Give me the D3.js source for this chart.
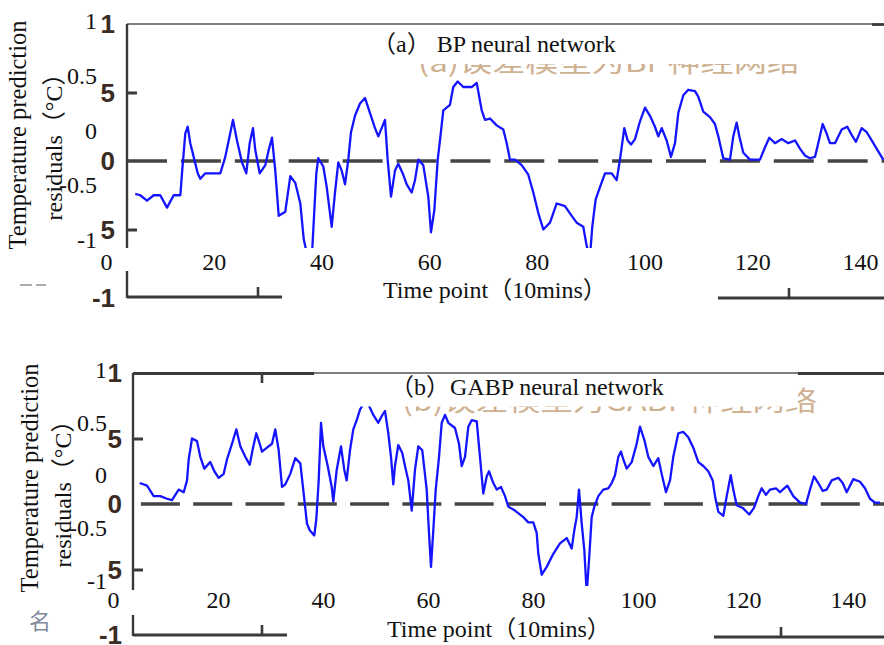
<!DOCTYPE html>
<html><head><meta charset="utf-8">
<script src="https://cdnjs.cloudflare.com/ajax/libs/d3/7.8.5/d3.min.js"></script>
<style>body{margin:0;background:#fff} svg{display:block}</style>
</head><body><svg id="c" width="884" height="645"></svg>
<script>
// ---------- data ----------
const bpTime = [5.44,6.37,7.61,8.86,10.08,11.33,12.57,13.80,14.11,14.72,15.17,15.65,16.28,17.03,17.51,18.44,21.22,22.15,22.78,23.58,24.32,25.25,26.05,26.68,27.29,27.72,28.54,29.58,30.21,30.82,31.43,32.07,33.29,34.22,35.15,36.08,36.71,37.32,38.25,39.05,39.42,40.35,40.98,41.59,41.91,42.52,43.13,43.76,44.38,44.99,45.49,46.23,47.16,48.09,49.02,49.95,50.56,51.80,52.30,52.92,53.66,54.27,55.20,55.83,56.76,57.37,57.99,58.91,59.84,60.34,60.96,61.59,62.01,62.63,63.87,64.48,65.30,66.34,67.90,68.83,69.76,70.37,71.30,72.54,73.77,74.40,75.01,75.94,77.18,78.41,79.34,80.27,81.20,82.44,83.68,85.22,86.47,87.39,88.62,89.25,89.86,90.29,90.92,91.72,92.65,93.89,94.82,95.43,95.75,96.23,96.86,97.48,98.22,99.15,100.08,101.00,101.93,102.55,103.18,104.10,104.90,105.65,106.26,107.19,108.12,109.36,109.97,110.90,112.14,113.07,113.69,114.61,115.86,116.47,117.10,117.59,118.33,119.57,121.43,122.36,123.16,124.21,125.46,126.68,127.93,128.85,129.78,130.71,131.64,132.25,133.07,133.81,134.42,135.35,136.60,137.64,138.45,139.25,140.31,141.24,142.17,143.39,144.32];
const bpResidual = [-0.24,-0.25,-0.29,-0.25,-0.25,-0.34,-0.25,-0.25,-0.09,0.20,0.25,0.13,0.03,-0.09,-0.13,-0.09,-0.09,0.03,0.15,0.30,0.15,-0.01,-0.09,0.13,0.24,0.08,-0.09,-0.03,0.08,0.17,-0.07,-0.40,-0.37,-0.11,-0.16,-0.31,-0.57,-0.68,-0.68,-0.09,0.02,-0.04,-0.19,-0.38,-0.48,-0.23,-0.01,-0.07,-0.17,0.01,0.21,0.33,0.42,0.46,0.35,0.24,0.18,0.30,0.01,-0.26,-0.07,-0.02,-0.10,-0.17,-0.23,-0.14,0.01,-0.03,-0.26,-0.52,-0.36,0.01,0.15,0.37,0.41,0.54,0.58,0.54,0.54,0.57,0.37,0.30,0.31,0.26,0.23,0.13,0.01,0.01,-0.03,-0.10,-0.23,-0.38,-0.50,-0.45,-0.31,-0.33,-0.40,-0.45,-0.48,-0.62,-0.70,-0.48,-0.28,-0.19,-0.09,-0.09,-0.14,0.01,0.10,0.24,0.15,0.12,0.16,0.29,0.39,0.33,0.25,0.18,0.24,0.15,0.03,0.13,0.35,0.48,0.52,0.51,0.47,0.36,0.32,0.27,0.18,0.02,0.01,0.18,0.28,0.18,0.06,0.01,0.01,0.10,0.17,0.13,0.16,0.13,0.15,0.09,0.04,0.02,0.03,0.13,0.27,0.20,0.13,0.13,0.23,0.25,0.19,0.14,0.24,0.21,0.15,0.07,0.01];

const gabpTime = [5.09,6.48,7.75,9.01,10.29,11.24,12.51,13.47,14.10,14.42,15.05,16.00,16.63,17.39,18.53,19.30,20.13,21.09,21.71,22.67,23.49,24.25,25.20,26.04,26.67,27.30,27.94,28.38,29.33,30.29,30.91,31.56,32.19,32.82,33.77,34.72,35.68,36.32,36.95,37.47,38.34,38.72,39.18,39.62,40.06,40.90,41.66,41.96,42.61,43.43,44.06,44.51,45.14,45.77,46.42,47.05,48.19,49.58,50.53,51.18,51.81,52.44,52.95,53.39,53.71,54.34,55.10,55.62,56.25,56.90,57.52,58.15,58.91,59.75,60.19,60.57,61.01,61.47,62.10,62.61,63.24,63.87,65.14,65.90,66.42,67.05,67.68,68.32,69.28,69.90,70.53,71.18,71.62,72.44,73.09,73.90,74.67,75.30,76.57,78.15,79.11,80.06,80.70,81.01,81.66,82.61,83.87,85.14,86.42,87.37,87.87,88.32,88.76,89.28,89.77,90.23,90.67,91.18,91.68,92.44,93.39,94.34,94.99,95.62,96.25,96.76,97.20,97.85,98.80,99.75,100.38,101.20,101.96,102.91,103.87,104.51,105.33,106.10,106.72,107.68,108.63,109.58,110.53,111.49,112.44,113.39,114.23,114.67,115.30,116.25,116.90,117.66,118.15,118.80,119.94,121.20,122.10,122.91,123.56,124.38,125.14,126.29,127.05,128.44,129.58,130.86,132.00,132.76,133.52,134.34,135.18,135.94,136.90,138.15,138.99,139.75,141.01,142.29,143.24,144.19,145.14,146.10];
const gabpResidual = [0.16,0.14,0.06,0.06,0.04,0.03,0.11,0.09,0.18,0.34,0.50,0.48,0.36,0.27,0.32,0.25,0.20,0.23,0.34,0.46,0.57,0.44,0.36,0.30,0.43,0.54,0.46,0.40,0.43,0.46,0.57,0.41,0.13,0.15,0.23,0.35,0.31,0.08,-0.15,-0.20,-0.24,-0.12,0.18,0.62,0.44,0.29,0.13,0.02,0.26,0.44,0.26,0.18,0.41,0.57,0.64,0.72,0.80,0.68,0.62,0.67,0.71,0.54,0.36,0.15,0.29,0.45,0.39,0.29,0.18,-0.05,0.26,0.44,0.41,0.11,-0.22,-0.48,-0.20,0.11,0.36,0.62,0.68,0.62,0.58,0.46,0.29,0.36,0.59,0.64,0.63,0.36,0.08,0.21,0.25,0.16,0.11,0.13,0.06,-0.02,-0.05,-0.10,-0.14,-0.14,-0.22,-0.38,-0.54,-0.48,-0.38,-0.30,-0.26,-0.34,-0.20,-0.10,0.11,-0.15,-0.35,-0.68,-0.43,-0.10,-0.02,0.06,0.11,0.12,0.16,0.22,0.36,0.40,0.34,0.27,0.32,0.46,0.59,0.49,0.36,0.29,0.35,0.23,0.09,0.18,0.36,0.54,0.55,0.51,0.43,0.32,0.29,0.25,0.18,0.06,-0.06,-0.09,0.06,0.22,0.11,-0.01,-0.03,-0.08,-0.03,0.06,0.12,0.07,0.11,0.12,0.09,0.14,0.06,0.01,0.00,0.11,0.21,0.16,0.10,0.11,0.18,0.20,0.16,0.09,0.19,0.17,0.12,0.04,0.01,0.01];

const xTickValues = [0,20,40,60,80,100,120,140];
const yTickValues = [1,0.5,0,-0.5,-1];
const yTickLabels = ["1","0.5","0","-0.5","-1"];
const origTickLabels = ["1","5","0","5","-1"];
const panelTitles = ["（a） BP neural network","（b）GABP neural network"];
const fadedTitles = ["(a)误差模型为BP神经网络","(b)误差模型为GABP神经网络"];
const yTitleLines = ["Temperature prediction","residuals（°C）"];
const xTitle = "Time point（10mins）";
const strayGlyph = "名";

// ---------- layout ----------
const SERIF = "'Liberation Serif','Times New Roman','Noto Sans CJK SC',serif";
const SANS = "'Liberation Sans',Arial,sans-serif";
const svg = d3.select("#c");
const defs = svg.append("defs");

const layouts = [
  {id:0, x0:106, x1:860, yBot:298, yTop:24, axisX:127, axisEnd:248, clipTop:24, clipBot:248,
   labC:130.5, labS:109.5, labRight:97, xLabBase:270, origRight:115,
   dash:"40,13.9", dashOff:0,
   fade:{x:418,y:72,w:382,s:26}, box:{x:128,y:25.5,w:744,h:38.5},
   title:{x:372,y:52}, xt:{x:383,y:298},
   yt1:{x:26,y:135}, yt2:{x:62,y:141},
   topThin:[127,872], topThick:[[872,884]], topY:24,
   bl:{y:297,x1:127,x2:282,vTop:271,tick:258}, br:{y:298,x1:718,tick:789}, topTick:null},
  {id:1, x0:113, x1:848, yBot:635, yTop:373, axisX:133, axisEnd:590, clipTop:373, clipBot:586,
   labC:475.3, labS:105.8, labRight:107, xLabBase:608, origRight:122,
   dash:"39,13.3", dashOff:44.4,
   fade:{x:402,y:411,w:415,s:27}, box:{x:314,y:374.5,w:484,h:32},
   title:{x:390,y:395}, xt:{x:387,y:637},
   yt1:{x:38,y:478}, yt2:{x:71,y:488},
   topThin:[314,798], topThick:[[133,314],[798,884]], topY:373,
   bl:{y:635,x1:133,x2:287,vTop:615,tick:262}, br:{y:637,x1:714,tick:781}, topTick:262}
];
const data = [{time:bpTime, val:bpResidual}, {time:gabpTime, val:gabpResidual}];

function drawPanel(d, L, i){
  const g = svg.append("g");
  const x = d3.scaleLinear().domain([0,140]).range([L.x0, L.x1]);
  const y = d3.scaleLinear().domain([-1,1]).range([L.yBot, L.yTop]);
  const yLab = d3.scaleLinear().domain([-1,1]).range([L.labC + L.labS, L.labC - L.labS]);
  const ink = "#3a3a3a";

  // faded underlying Chinese caption
  g.append("text").attr("x",L.fade.x).attr("y",L.fade.y)
    .attr("textLength",L.fade.w).attr("lengthAdjust","spacingAndGlyphs")
    .attr("font-family","'Noto Sans CJK SC',sans-serif").attr("font-size",L.fade.s)
    .attr("fill","#c6a47e").attr("opacity",0.85).text(fadedTitles[i]);

  // dashed zero line
  g.append("line").attr("x1",L.axisX).attr("x2",884).attr("y1",y(0)).attr("y2",y(0))
    .attr("stroke","#444").attr("stroke-width",3.4)
    .attr("stroke-dasharray",L.dash).attr("stroke-dashoffset",L.dashOff);

  // data line
  const cid = "clip"+L.id;
  defs.append("clipPath").attr("id",cid).append("rect")
    .attr("x",L.axisX).attr("y",L.clipTop).attr("width",884-L.axisX).attr("height",L.clipBot-L.clipTop);
  const pts = d.time.map((t,k)=>[t,d.val[k]]);
  g.append("path").datum(pts).attr("clip-path",`url(#${cid})`)
    .attr("d", d3.line().x(p=>x(p[0])).y(p=>y(p[1])))
    .attr("fill","none").attr("stroke","#1414ff").attr("stroke-width",2.3).attr("stroke-linejoin","round");

  // white caption box
  g.append("rect").attr("x",L.box.x).attr("y",L.box.y).attr("width",L.box.w).attr("height",L.box.h).attr("fill","#fff");

  // frame pieces
  const seg = (x1,y1,x2,y2,w,c)=>g.append("line").attr("x1",x1).attr("y1",y1).attr("x2",x2).attr("y2",y2)
     .attr("stroke",c||ink).attr("stroke-width",w);
  seg(L.topThin[0],L.topY,L.topThin[1],L.topY,1.3,"#555");
  L.topThick.forEach(s=>seg(s[0],L.topY+0.5,s[1],L.topY+0.5,2.8));
  seg(L.axisX,L.yTop,L.axisX,L.axisEnd,2.4);
  if(L.topTick) seg(L.topTick,L.topY,L.topTick,L.topY+10,2.6);
  seg(L.bl.x1,L.bl.y,L.bl.x2,L.bl.y,3);
  seg(L.axisX,L.bl.vTop,L.axisX,L.bl.y+1,2.4);
  seg(L.bl.tick,L.bl.y-10,L.bl.tick,L.bl.y,2.6);
  seg(L.br.x1,L.br.y,884,L.br.y,3);
  seg(L.br.tick,L.br.y-10,L.br.tick,L.br.y,2.6);

  // inward ticks at +/-0.5
  const ya = g.append("g").attr("transform",`translate(${L.axisX},0)`)
    .call(d3.axisLeft(y).tickValues([-0.5,0.5]).tickSize(-10).tickFormat(""));
  ya.select(".domain").remove();
  ya.selectAll("line").attr("stroke",ink).attr("stroke-width",3);

  // original (bold) tick labels
  g.append("g").selectAll("text").data(yTickValues).join("text")
    .attr("x",L.origRight).attr("y",v=>y(v)).attr("dy","0.36em").attr("text-anchor","end")
    .attr("font-family",SANS).attr("font-weight","bold").attr("font-size",26)
    .attr("fill","#3a2c22").text((v,k)=>origTickLabels[k]);

  // typed tick labels
  g.append("g").selectAll("text").data(yTickValues).join("text")
    .attr("x",L.labRight).attr("y",v=>yLab(v)).attr("dy","0.34em").attr("text-anchor","end")
    .attr("font-family",SERIF).attr("font-size",24).attr("fill","#111").text((v,k)=>yTickLabels[k]);

  const xa = g.append("g").attr("transform",`translate(0,${L.xLabBase})`)
    .call(d3.axisBottom(x).tickValues(xTickValues).tickSize(0).tickPadding(0));
  xa.select(".domain").remove();
  xa.selectAll("text").attr("y",0).attr("dy",0).attr("font-family",SERIF).attr("font-size",24).attr("fill","#111");

  // titles
  g.append("text").attr("x",L.title.x).attr("y",L.title.y).attr("font-family",SERIF).attr("font-size",24)
    .attr("fill","#111").text(panelTitles[i]);
  g.append("text").attr("x",L.xt.x).attr("y",L.xt.y).attr("font-family",SERIF).attr("font-size",24)
    .attr("fill","#111").text(xTitle);
  g.append("text").attr("transform",`translate(${L.yt1.x},${L.yt1.y}) rotate(-90)`).attr("text-anchor","middle")
    .attr("font-family",SERIF).attr("font-size",24.5).attr("fill","#111").text(yTitleLines[0]);
  g.append("text").attr("transform",`translate(${L.yt2.x},${L.yt2.y}) rotate(-90)`).attr("text-anchor","middle")
    .attr("font-family",SERIF).attr("font-size",24).attr("fill","#111").text(yTitleLines[1]);
}

layouts.forEach((L,i)=>drawPanel(data[i], L, i));

// faint stray marks left of the lower frames (remnants of the underlying scan)
svg.append("text").attr("x",29).attr("y",629).attr("font-family","'Noto Sans CJK SC',sans-serif")
  .attr("font-size",22).attr("fill","#56607a").attr("opacity",0.75).text(strayGlyph);
svg.append("g").selectAll("line").data([[20,32],[36,46]]).join("line")
  .attr("x1",d=>d[0]).attr("x2",d=>d[1]).attr("y1",285).attr("y2",285)
  .attr("stroke","#6a6a7a").attr("stroke-width",1.6).attr("opacity",0.7);
</script>
</body></html>
